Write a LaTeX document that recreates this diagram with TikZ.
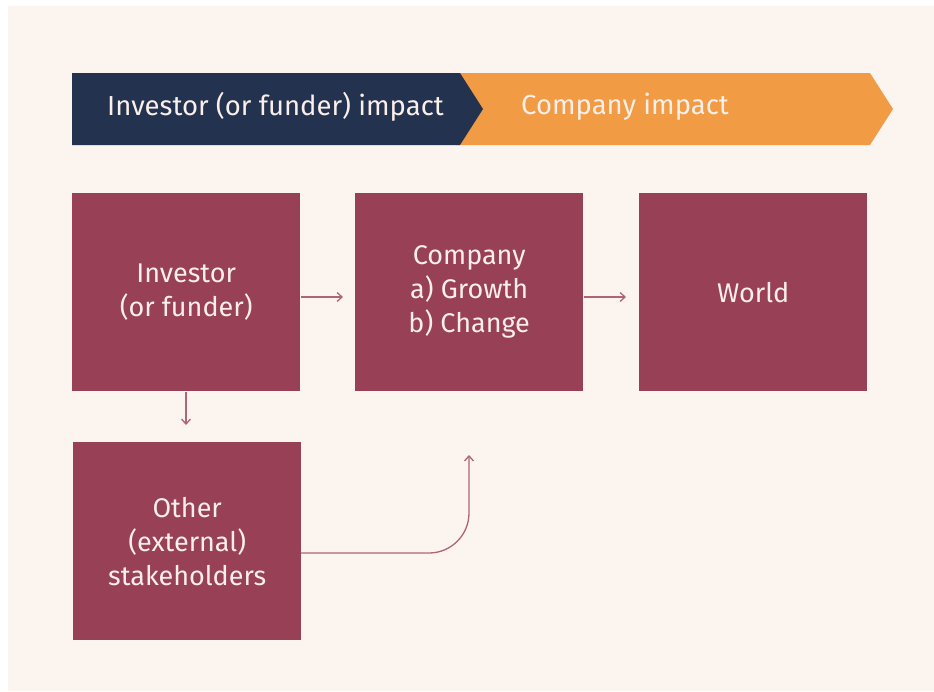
\documentclass[tikz,border=0pt]{standalone}
\usepackage{fontspec}
\setmainfont{Fira Sans}
\usetikzlibrary{arrows.meta}
\definecolor{bgcream}{HTML}{FCF4EF}
\definecolor{navy}{HTML}{22324F}
\definecolor{orangeb}{HTML}{F29B45}
\definecolor{maroon}{HTML}{984056}
\definecolor{arrowc}{HTML}{B06478}
\definecolor{txtc}{HTML}{FBEFE9}
\tikzset{
  box/.style={fill=maroon, minimum width=228pt, minimum height=198pt, inner sep=0pt,
    text=txtc, font=\fontsize{27}{34}\selectfont, align=center, anchor=north west},
  conn/.style={draw=arrowc, line width=1.3pt, -{Straight Barb[length=5pt,width=9pt,line width=1.3pt]}},
  bannertext/.style={text=txtc, font=\fontsize{27.5}{30}\selectfont, anchor=west, inner sep=0pt}
}
\begin{document}
\begin{tikzpicture}[x=1pt,y=-1pt]
\useasboundingbox (0,0) rectangle (934,691);
\fill[white] (0,0) rectangle (934,691);
\fill[bgcream] (8,6) rectangle (934,691);
% banner
\fill[orangeb] (455,73) -- (870,73) -- (893,109) -- (870,145) -- (455,145) -- cycle;
\fill[navy] (72,73) -- (460,73) -- (483,109) -- (460,145) -- (72,145) -- cycle;
\node[bannertext] (bl) at (107,107) {Investor (or funder) impact};
\node[bannertext] (br) at (521,107) {Company impact};
% boxes
\node[box] (inv) at (72,193) {Investor\\(or funder)};
\node[box] (com) at (355,193) {Company\\a) Growth\\b) Change};
\node[box] (wor) at (639,193) {World};
\node[box] (oth) at (73,442) {Other\\(external)\\stakeholders};
% connectors
\coordinate (a1s) at (301,297);
\coordinate (a1e) at (343,297);
\draw[conn] (a1s) -- (a1e);
\coordinate (a2s) at (584,297);
\coordinate (a2e) at (626,297);
\draw[conn] (a2s) -- (a2e);
\coordinate (a3s) at (186,392);
\coordinate (a3e) at (186,425);
\draw[conn] (a3s) -- (a3e);
\coordinate (a4s) at (301,553);
\coordinate (a4e) at (469,455);
\draw[conn, rounded corners=40pt] (a4s) -- (469,553) -- (a4e);
\end{tikzpicture}
\end{document}
